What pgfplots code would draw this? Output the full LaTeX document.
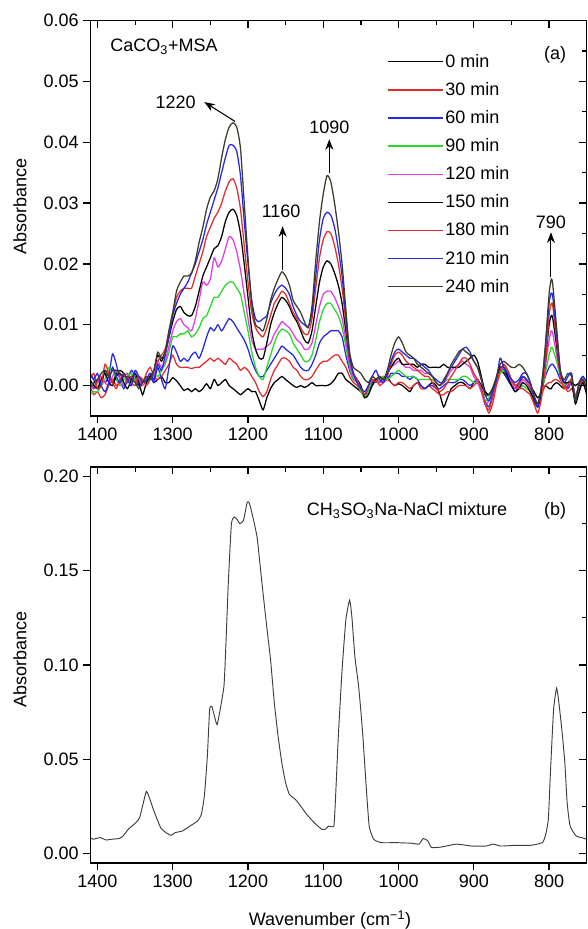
\documentclass[border=0pt]{standalone}
\usepackage{fontspec}
\setmainfont{Liberation Sans}
\usepackage{pgfplots}
\pgfplotsset{compat=1.18}
\usepackage{pgfplotstable}
\usetikzlibrary{arrows.meta}

\definecolor{cred}{RGB}{225,45,45}
\definecolor{cblue}{RGB}{40,40,225}
\definecolor{cgreen}{RGB}{40,215,40}
\definecolor{cmag}{RGB}{225,60,225}
\definecolor{colive}{RGB}{60,60,45}
\definecolor{cgrey}{RGB}{60,60,60}

\tikzset{fnt/.style={font=\fontsize{13.5}{16}\selectfont}}

\pgfplotstableread{
wn c0 c30 c60 c90 c120 c150 c180 c210 c240
1410 0.0005 0.0000 0.0020 -0.0015 0.0005 0.0010 0.0010 0.0020 -0.0005
1405 -0.0005 -0.0015 0.0010 -0.0010 -0.0005 0.0000 0.0020 0.0010 0.0005
1400 0.0010 -0.0010 -0.0005 -0.0010 0.0005 -0.0005 -0.0005 0.0020 0.0010
1395 0.0000 -0.0020 0.0005 0.0000 0.0015 0.0010 0.0000 0.0000 0.0020
1390 0.0025 -0.0015 0.0005 0.0010 0.0005 0.0020 0.0035 -0.0010 0.0025
1385 0.0015 0.0000 0.0015 0.0030 0.0000 0.0005 0.0020 0.0005 0.0015
1380 0.0005 0.0010 0.0052 0.0025 0.0015 0.0000 0.0005 0.0030 0.0025
1375 0.0020 0.0000 0.0035 0.0010 0.0025 0.0015 -0.0005 0.0015 0.0025
1370 0.0025 0.0005 0.0010 0.0000 0.0010 0.0020 0.0010 0.0005 0.0020
1365 0.0020 0.0015 -0.0005 0.0010 0.0000 0.0005 0.0020 0.0020 0.0015
1360 0.0010 0.0020 0.0010 0.0015 0.0015 -0.0005 0.0005 0.0010 0.0015
1355 0.0015 0.0005 0.0025 0.0020 0.0005 0.0010 0.0015 0.0000 0.0010
1350 0.0010 0.0000 0.0015 0.0010 0.0020 0.0020 0.0005 0.0025 0.0005
1345 0.0000 0.0015 0.0000 0.0005 0.0010 0.0005 0.0015 0.0015 -0.0005
1340 0.0010 0.0005 0.0010 0.0010 0.0000 -0.0015 0.0010 0.0005 0.0005
1335 0.0005 0.0020 0.0005 0.0005 0.0010 0.0005 0.0000 0.0010 0.0015
1330 0.0015 0.0030 0.0015 0.0010 0.0020 0.0015 0.0010 0.0020 0.0010
1325 0.0005 0.0015 0.0005 0.0020 0.0015 0.0025 0.0025 0.0010 0.0025
1320 0.0010 0.0010 0.0030 0.0015 0.0040 0.0050 0.0040 0.0035 0.0055
1315 0.0015 0.0015 0.0010 0.0025 0.0030 0.0040 0.0050 0.0025 0.0045
1310 0.0005 0.0025 -0.0005 0.0035 0.0040 0.0055 0.0060 0.0050 0.0055
1305 0.0005 0.0035 0.0030 0.0055 0.0065 0.0080 0.0090 0.0080 0.0090
1300 0.0013 0.0050 0.0065 0.0080 0.0090 0.0105 0.0120 0.0115 0.0120
1295 0.0008 0.0035 0.0055 0.0080 0.0105 0.0125 0.0145 0.0135 0.0155
1290 0.0000 0.0030 0.0040 0.0085 0.0110 0.0130 0.0155 0.0150 0.0170
1285 -0.0008 0.0030 0.0045 0.0085 0.0100 0.0120 0.0160 0.0160 0.0180
1280 -0.0005 0.0030 0.0040 0.0090 0.0095 0.0115 0.0160 0.0170 0.0180
1275 -0.0010 0.0028 0.0050 0.0080 0.0090 0.0115 0.0160 0.0185 0.0185
1270 -0.0005 0.0030 0.0055 0.0085 0.0110 0.0130 0.0180 0.0200 0.0205
1265 -0.0010 0.0030 0.0045 0.0095 0.0140 0.0155 0.0200 0.0220 0.0235
1260 -0.0005 0.0035 0.0060 0.0110 0.0170 0.0180 0.0220 0.0240 0.0260
1255 0.0003 0.0040 0.0080 0.0115 0.0165 0.0195 0.0245 0.0265 0.0290
1250 -0.0005 0.0045 0.0095 0.0130 0.0175 0.0210 0.0260 0.0285 0.0310
1245 0.0010 0.0040 0.0090 0.0145 0.0210 0.0225 0.0275 0.0305 0.0320
1240 0.0000 0.0045 0.0100 0.0145 0.0195 0.0230 0.0285 0.0325 0.0340
1235 0.0005 0.0040 0.0090 0.0155 0.0205 0.0245 0.0300 0.0350 0.0375
1230 0.0010 0.0035 0.0100 0.0165 0.0225 0.0270 0.0320 0.0375 0.0405
1225 0.0000 0.0045 0.0110 0.0170 0.0245 0.0285 0.0335 0.0395 0.0425
1220 -0.0005 0.0040 0.0105 0.0170 0.0240 0.0290 0.0340 0.0395 0.0432
1215 -0.0010 0.0035 0.0095 0.0160 0.0220 0.0280 0.0325 0.0385 0.0425
1210 -0.0015 0.0025 0.0085 0.0150 0.0190 0.0250 0.0290 0.0345 0.0390
1205 -0.0010 0.0030 0.0075 0.0120 0.0150 0.0200 0.0230 0.0270 0.0300
1200 -0.0005 0.0025 0.0060 0.0090 0.0110 0.0145 0.0170 0.0200 0.0210
1195 -0.0010 0.0015 0.0040 0.0055 0.0075 0.0090 0.0120 0.0140 0.0135
1190 -0.0010 0.0005 0.0025 0.0030 0.0060 0.0060 0.0095 0.0110 0.0100
1185 -0.0025 -0.0010 0.0015 0.0015 0.0060 0.0045 0.0085 0.0105 0.0095
1180 -0.0040 -0.0018 0.0015 0.0010 0.0060 0.0045 0.0080 0.0110 0.0090
1175 -0.0020 -0.0010 0.0025 0.0030 0.0065 0.0070 0.0095 0.0115 0.0110
1170 -0.0005 0.0010 0.0035 0.0050 0.0070 0.0100 0.0115 0.0135 0.0140
1165 0.0005 0.0025 0.0045 0.0070 0.0085 0.0120 0.0135 0.0150 0.0160
1160 0.0010 0.0035 0.0055 0.0085 0.0095 0.0135 0.0145 0.0160 0.0175
1155 0.0015 0.0045 0.0065 0.0093 0.0105 0.0145 0.0155 0.0165 0.0187
1150 0.0010 0.0045 0.0060 0.0090 0.0100 0.0140 0.0150 0.0160 0.0180
1145 0.0005 0.0040 0.0055 0.0085 0.0095 0.0130 0.0135 0.0150 0.0165
1140 0.0000 0.0030 0.0050 0.0070 0.0085 0.0115 0.0120 0.0130 0.0140
1135 -0.0003 0.0025 0.0040 0.0060 0.0075 0.0105 0.0110 0.0115 0.0130
1130 0.0000 0.0015 0.0030 0.0050 0.0070 0.0090 0.0095 0.0105 0.0120
1125 -0.0003 0.0010 0.0025 0.0040 0.0060 0.0075 0.0085 0.0100 0.0105
1120 0.0000 0.0010 0.0025 0.0040 0.0060 0.0070 0.0085 0.0097 0.0095
1115 0.0005 0.0015 0.0035 0.0050 0.0070 0.0090 0.0110 0.0120 0.0130
1110 0.0000 0.0025 0.0050 0.0075 0.0100 0.0130 0.0160 0.0180 0.0205
1105 0.0000 0.0035 0.0070 0.0105 0.0130 0.0170 0.0210 0.0240 0.0270
1100 0.0000 0.0040 0.0080 0.0125 0.0150 0.0195 0.0240 0.0275 0.0315
1095 0.0000 0.0040 0.0085 0.0135 0.0155 0.0205 0.0253 0.0285 0.0345
1090 0.0003 0.0045 0.0090 0.0135 0.0155 0.0200 0.0250 0.0280 0.0335
1085 0.0010 0.0050 0.0090 0.0125 0.0145 0.0185 0.0230 0.0260 0.0300
1080 0.0020 0.0050 0.0090 0.0115 0.0130 0.0165 0.0200 0.0225 0.0255
1075 0.0020 0.0040 0.0080 0.0095 0.0110 0.0135 0.0160 0.0180 0.0200
1070 0.0010 0.0030 0.0050 0.0065 0.0075 0.0090 0.0105 0.0115 0.0125
1065 0.0005 0.0015 0.0025 0.0030 0.0035 0.0045 0.0045 0.0050 0.0055
1060 0.0000 0.0005 0.0010 0.0010 0.0015 0.0020 0.0020 0.0020 0.0030
1055 -0.0005 0.0000 0.0005 0.0005 0.0005 0.0010 0.0010 0.0005 0.0025
1050 -0.0010 -0.0010 -0.0005 -0.0010 -0.0005 0.0000 -0.0005 -0.0005 0.0020
1045 -0.0015 -0.0015 -0.0015 -0.0020 -0.0015 -0.0020 -0.0015 -0.0010 0.0010
1040 -0.0010 -0.0005 -0.0010 -0.0010 0.0000 -0.0015 0.0000 0.0000 0.0005
1035 0.0000 0.0005 0.0005 0.0010 0.0015 0.0000 0.0010 0.0015 0.0015
1030 0.0010 0.0010 0.0010 0.0005 0.0010 0.0010 0.0005 0.0025 0.0010
1025 0.0005 0.0000 0.0005 0.0010 0.0005 0.0015 0.0015 0.0010 0.0015
1020 0.0010 0.0005 0.0015 0.0015 0.0010 0.0010 0.0010 0.0005 0.0010
1015 0.0015 0.0010 0.0010 0.0010 0.0020 0.0020 0.0015 0.0020 0.0025
1010 0.0005 0.0005 0.0020 0.0015 0.0030 0.0030 0.0035 0.0040 0.0050
1005 0.0000 0.0000 0.0020 0.0020 0.0035 0.0040 0.0050 0.0055 0.0070
1000 0.0003 0.0005 0.0020 0.0025 0.0040 0.0045 0.0055 0.0060 0.0080
995 0.0000 0.0005 0.0015 0.0020 0.0035 0.0035 0.0050 0.0055 0.0070
990 -0.0005 0.0000 0.0015 0.0015 0.0030 0.0035 0.0040 0.0050 0.0055
985 -0.0010 -0.0005 0.0010 0.0015 0.0030 0.0035 0.0035 0.0045 0.0050
980 0.0000 0.0000 0.0015 0.0015 0.0025 0.0035 0.0030 0.0045 0.0045
975 0.0005 0.0005 0.0010 0.0010 0.0025 0.0030 0.0025 0.0040 0.0035
970 0.0000 -0.0005 0.0000 0.0010 0.0025 0.0035 0.0020 0.0035 0.0030
965 -0.0005 -0.0005 -0.0005 0.0010 0.0020 0.0035 0.0015 0.0030 0.0025
960 0.0000 0.0000 0.0000 0.0010 0.0020 0.0030 0.0015 0.0025 0.0020
955 0.0005 -0.0005 0.0000 0.0010 0.0015 0.0030 0.0005 0.0015 0.0015
950 0.0000 -0.0010 -0.0005 0.0005 0.0005 0.0030 -0.0005 0.0010 0.0005
945 -0.0015 -0.0015 -0.0005 0.0000 0.0000 0.0030 -0.0010 0.0005 0.0000
940 -0.0035 -0.0015 0.0000 0.0005 0.0005 0.0035 -0.0005 0.0005 0.0010
935 -0.0020 -0.0010 0.0005 0.0010 0.0015 0.0030 0.0005 0.0020 0.0020
930 -0.0005 -0.0010 0.0005 0.0010 0.0025 0.0030 0.0015 0.0030 0.0035
925 0.0000 -0.0005 0.0005 0.0010 0.0030 0.0030 0.0025 0.0040 0.0045
920 0.0005 0.0000 0.0010 0.0010 0.0035 0.0030 0.0035 0.0050 0.0055
915 0.0005 0.0000 0.0010 0.0015 0.0040 0.0035 0.0045 0.0060 0.0060
910 0.0000 0.0000 0.0005 0.0015 0.0035 0.0040 0.0045 0.0063 0.0055
905 -0.0005 -0.0005 0.0000 0.0010 0.0030 0.0045 0.0035 0.0055 0.0050
900 0.0005 0.0000 0.0005 0.0005 0.0015 0.0050 0.0020 0.0040 0.0040
895 0.0010 0.0005 0.0010 0.0005 0.0005 0.0040 0.0010 0.0030 0.0030
890 0.0000 -0.0010 -0.0005 -0.0005 -0.0010 0.0015 -0.0005 0.0010 0.0010
885 -0.0010 -0.0030 -0.0025 -0.0025 -0.0030 -0.0010 -0.0030 -0.0015 -0.0015
880 -0.0015 -0.0045 -0.0035 -0.0020 -0.0025 -0.0015 -0.0040 -0.0025 -0.0015
875 -0.0005 -0.0030 -0.0015 -0.0005 -0.0010 -0.0005 -0.0020 -0.0010 -0.0005
870 0.0010 0.0000 0.0010 0.0010 0.0010 0.0010 0.0005 0.0010 0.0015
865 0.0025 0.0020 0.0030 0.0020 0.0025 0.0030 0.0025 0.0045 0.0035
860 0.0020 0.0035 0.0025 0.0025 0.0030 0.0030 0.0035 0.0030 0.0040
855 0.0010 0.0025 0.0010 0.0020 0.0020 0.0015 0.0025 0.0020 0.0035
850 0.0000 0.0010 0.0000 0.0010 0.0005 0.0000 0.0010 0.0010 0.0030
845 -0.0005 0.0000 -0.0010 0.0000 -0.0005 -0.0010 0.0000 0.0005 0.0030
840 0.0005 0.0005 0.0000 -0.0005 0.0000 -0.0005 -0.0005 0.0010 0.0035
835 0.0015 0.0010 0.0015 0.0000 0.0010 0.0005 -0.0005 0.0020 0.0030
830 0.0010 0.0005 0.0010 -0.0005 0.0005 0.0000 -0.0010 0.0020 0.0020
825 0.0000 -0.0005 0.0000 -0.0010 0.0000 -0.0010 -0.0015 0.0005 0.0005
820 -0.0010 -0.0020 -0.0020 -0.0020 -0.0020 -0.0025 -0.0030 -0.0020 -0.0015
815 -0.0020 -0.0035 -0.0030 -0.0035 -0.0035 -0.0035 -0.0045 -0.0035 -0.0030
810 -0.0010 -0.0015 -0.0010 -0.0015 -0.0010 -0.0010 -0.0020 0.0000 0.0000
805 0.0000 0.0000 0.0015 0.0020 0.0030 0.0040 0.0035 0.0060 0.0065
800 -0.0005 0.0005 0.0030 0.0050 0.0075 0.0100 0.0115 0.0135 0.0150
797 -0.0005 0.0005 0.0035 0.0063 0.0090 0.0115 0.0135 0.0152 0.0175
795 0.0000 0.0008 0.0035 0.0060 0.0085 0.0110 0.0130 0.0145 0.0165
790 0.0005 0.0010 0.0025 0.0040 0.0050 0.0065 0.0075 0.0085 0.0095
785 0.0000 0.0005 0.0010 0.0015 0.0020 0.0020 0.0015 0.0025 0.0025
780 -0.0005 0.0000 0.0005 0.0000 0.0005 0.0005 -0.0005 0.0005 0.0010
775 0.0000 -0.0010 -0.0005 0.0005 0.0000 0.0005 0.0000 0.0015 0.0020
770 0.0005 -0.0005 0.0005 0.0010 0.0005 0.0005 0.0010 0.0020 0.0015
765 0.0000 -0.0015 -0.0020 -0.0020 -0.0025 -0.0030 -0.0020 -0.0025 -0.0025
760 0.0005 0.0000 -0.0010 0.0005 -0.0005 -0.0010 0.0000 0.0005 0.0005
755 0.0010 0.0005 0.0010 0.0015 0.0010 0.0005 0.0010 0.0015 0.0010
750 0.0000 -0.0010 -0.0005 0.0000 -0.0010 -0.0015 -0.0005 0.0005 -0.0005
}\spectraA

\pgfplotstableread{
wn a
1411 0.0090
1406 0.0076
1396 0.0085
1389 0.0072
1381 0.0076
1371 0.0080
1366 0.0093
1359 0.0129
1349 0.0164
1344 0.0190
1339 0.0270
1335 0.0330
1331 0.0296
1325 0.0226
1316 0.0137
1309 0.0111
1302 0.0097
1297 0.0111
1287 0.0120
1277 0.0146
1267 0.0173
1262 0.0208
1258 0.0305
1254 0.0516
1251 0.0763
1248 0.0780
1244 0.0719
1241 0.0684
1237 0.0763
1232 0.0886
1230 0.1045
1226 0.1450
1222 0.1750
1218 0.1785
1214 0.1770
1211 0.1750
1206 0.1767
1201 0.1864
1198 0.1856
1193 0.1776
1188 0.1680
1185 0.1570
1180 0.1380
1175 0.1200
1170 0.1027
1165 0.0798
1160 0.0622
1155 0.0480
1150 0.0375
1145 0.0314
1137 0.0287
1130 0.0252
1122 0.0208
1112 0.0164
1102 0.0129
1097 0.0129
1093 0.0146
1086 0.0146
1084 0.0270
1080 0.0622
1075 0.0974
1070 0.1239
1065 0.1344
1062 0.1256
1058 0.1045
1053 0.0886
1048 0.0657
1043 0.0358
1039 0.0146
1033 0.0076
1023 0.0058
1003 0.0058
983 0.0055
973 0.0050
967 0.0080
961 0.0067
956 0.0032
943 0.0035
923 0.0050
903 0.0040
884 0.0040
874 0.0050
864 0.0040
844 0.0044
824 0.0044
809 0.0058
805 0.0093
801 0.0180
798 0.0446
794 0.0763
790 0.0878
787 0.0800
783 0.0657
779 0.0480
776 0.0270
772 0.0146
764 0.0093
757 0.0085
750 0.0076
}\spectraB

\pgfplotsset{
  base/.style={scale only axis, width=372pt, x dir=reverse, xmin=750, xmax=1409,
     xtick={800,900,1000,1100,1200,1300,1400}, minor x tick num=1, minor y tick num=1,
     scaled x ticks=false, scaled y ticks=false,
     /pgf/number format/assume math mode=true,
     /pgf/number format/1000 sep={},
     tick label style={font=\fontsize{13.5}{16}\selectfont},
     label style={font=\fontsize{13.5}{16}\selectfont},
     axis line style={line width=0.9pt},
     major tick length=5.5pt, minor tick length=3.5pt,
     every tick/.append style={line width=0.9pt, black},
     yticklabel style={/pgf/number format/fixed, /pgf/number format/fixed zerofill, /pgf/number format/precision=2},
  },
  outer/.style={base, tick align=outside, xtick pos=left, ytick pos=left, minor x tick num=0, minor y tick num=0},
  inner/.style={base, tick align=inside, xtick pos=right, ytick pos=right,
     xticklabel=\empty, yticklabel=\empty,
     xticklabel style={opacity=0}, yticklabel style={opacity=0}},
  spec/.style={line width=0.95pt, smooth, tension=0.4},
}

\begin{document}
\begin{tikzpicture}
\path[use as bounding box] (0pt,0pt) rectangle (441pt,-696.75pt);

% ---------- Panel (a) ----------
\begin{axis}[outer, at={(68.025pt,-312pt)}, anchor=south west, height=296.6pt,
  ymin=-0.005, ymax=0.06, ytick={0,0.01,0.02,0.03,0.04,0.05,0.06},
  ylabel={Absorbance}, ylabel style={at={(axis description cs:-0.1425,0.531)}, anchor=center},
  legend cell align=left,
  legend style={at={(0.5974,0.9204)}, anchor=north west, draw=none, fill=none, inner sep=0pt,
     font=\fontsize{13.5}{16}\selectfont, row sep=6.8pt, nodes={inner sep=1.5pt}},
  legend image code/.code={\draw[#1, line width=1pt] (0pt,0pt) -- (41pt,0pt);},
]
\addplot[spec, black]  table[x=wn, y=c0]   {\spectraA};
\addplot[spec, cred]   table[x=wn, y=c30]  {\spectraA};
\addplot[spec, cblue]  table[x=wn, y=c60]  {\spectraA};
\addplot[spec, cgreen] table[x=wn, y=c90]  {\spectraA};
\addplot[spec, cmag]   table[x=wn, y=c120] {\spectraA};
\addplot[spec, black]  table[x=wn, y=c150] {\spectraA};
\addplot[spec, cred]   table[x=wn, y=c180] {\spectraA};
\addplot[spec, cblue]  table[x=wn, y=c210] {\spectraA};
\addplot[spec, colive] table[x=wn, y=c240] {\spectraA};
\legend{0 min, 30 min, 60 min, 90 min, 120 min, 150 min, 180 min, 210 min, 240 min}

\node[fnt, anchor=west] at (axis cs:1389,0.0557) {CaCO\textsubscript{3}+MSA};
\node[fnt] at (axis cs:792,0.0544) {(a)};

\draw[-{Stealth[length=8pt,width=6pt]}, line width=0.8pt] (axis cs:1217,0.0434) -- (axis cs:1258,0.0466);
\node[fnt] at (axis cs:1296,0.0466) {1220};
\draw[-{Stealth[length=8pt,width=6pt]}, line width=0.8pt] (axis cs:1154,0.0190) -- (axis cs:1154,0.0262);
\node[fnt] at (axis cs:1156,0.0286) {1160};
\draw[-{Stealth[length=8pt,width=6pt]}, line width=0.8pt] (axis cs:1092,0.0350) -- (axis cs:1092,0.0405);
\node[fnt] at (axis cs:1092,0.0424) {1090};
\draw[-{Stealth[length=8pt,width=6pt]}, line width=0.8pt] (axis cs:797.5,0.0178) -- (axis cs:797.5,0.0252);
\node[fnt] at (axis cs:797.5,0.0269) {790};
\end{axis}
\begin{axis}[inner, at={(68.025pt,-312pt)}, anchor=south west, height=296.6pt,
  ymin=-0.005, ymax=0.06, ytick={0,0.01,0.02,0.03,0.04,0.05,0.06}]
\end{axis}

% ---------- Panel (b) ----------
\begin{axis}[outer, at={(68.025pt,-647.25pt)}, anchor=south west, height=297pt,
  ymin=-0.005, ymax=0.205, ytick={0,0.05,0.10,0.15,0.20},
  ylabel={Absorbance}, ylabel style={at={(axis description cs:-0.1425,0.513)}, anchor=center},
  xlabel={Wavenumber (cm\textsuperscript{−1})}, xlabel style={at={(axis description cs:0.4825,-0.144)}, anchor=center},
]
\addplot[line width=0.7pt, cgrey, smooth, tension=0.3] table[x=wn, y=a] {\spectraB};
\node[fnt, anchor=west] at (axis cs:1128,0.182) {CH\textsubscript{3}SO\textsubscript{3}Na-NaCl mixture};
\node[fnt] at (axis cs:792,0.182) {(b)};
\end{axis}
\begin{axis}[inner, at={(68.025pt,-647.25pt)}, anchor=south west, height=297pt,
  ymin=-0.005, ymax=0.205, ytick={0,0.05,0.10,0.15,0.20}]
\end{axis}
\end{tikzpicture}
\end{document}
